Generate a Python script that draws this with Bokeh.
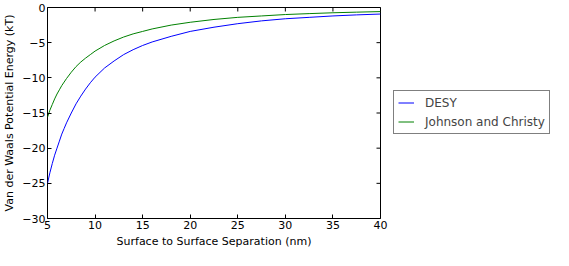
import math
from bokeh.plotting import figure
from bokeh.layouts import row
from bokeh.models import FixedTicker, Legend, LegendItem, Range1d
from bokeh.embed import file_html
from bokeh.resources import INLINE

separation = [5, 5.25, 5.5, 5.75, 6, 6.25, 6.5, 6.75, 7, 7.5, 8, 8.5, 9, 9.5, 10, 11, 12,
              13, 14, 15, 16, 18, 20, 22.5, 25, 27.5, 30, 32.5, 35, 37.5, 40]
desy = [-25.0, -23.5, -22.2, -21.0, -20.0, -19.0, -18.0, -17.2, -16.4, -15.0, -13.7,
        -12.6, -11.6, -10.7, -9.9, -8.6, -7.6, -6.7, -6.0, -5.4, -4.9, -4.1, -3.4,
        -2.8, -2.3, -1.9, -1.6, -1.4, -1.2, -1.05, -0.93]
johnson_christy = [-15.6, -14.6, -13.8, -13.0, -12.3, -11.7, -11.1, -10.6, -10.1,
                   -9.2, -8.4, -7.75, -7.2, -6.7, -6.2, -5.4, -4.75, -4.2, -3.75,
                   -3.4, -3.05, -2.5, -2.1, -1.7, -1.4, -1.2, -1.0, -0.87, -0.75,
                   -0.66, -0.58]
x_ticks = [5, 10, 15, 20, 25, 30, 35, 40]
y_ticks = [0, -5, -10, -15, -20, -25, -30]
series_names = ["DESY", "Johnson and Christy"]
series_colors = ["#0000ff", "#008000"]

FONT = "DejaVu Sans"
x_min, x_max = x_ticks[0], x_ticks[-1]
y_min, y_max = y_ticks[-1], y_ticks[0]

p = figure(width=390, height=250, output_backend="svg", toolbar_location=None,
           x_range=Range1d(x_min, x_max), y_range=Range1d(y_min, y_max),
           min_border_left=10, min_border_right=10, min_border_top=7,
           min_border_bottom=10)
p.background_fill_color = "white"
p.border_fill_color = "white"
p.outline_line_color = "black"
p.outline_line_width = 1
p.grid.visible = False

r1 = p.line(separation, desy, line_color=series_colors[0], line_width=1)
r2 = p.line(separation, johnson_christy, line_color=series_colors[1], line_width=1)

# inward ticks on the top and right edges (matplotlib boxed style)
p.scatter(x=x_ticks, y=[y_max] * len(x_ticks), marker="dash", angle=math.pi / 2,
          size=8, line_color="black", line_width=1)
p.scatter(x=[x_max] * len(y_ticks), y=y_ticks, marker="dash",
          size=8, line_color="black", line_width=1)

for ax, ticks in ((p.xaxis[0], x_ticks), (p.yaxis[0], y_ticks)):
    ax.ticker = FixedTicker(ticks=ticks)
    ax.axis_line_color = None
    ax.major_tick_in = 4
    ax.major_tick_out = 0
    ax.minor_tick_line_color = None
    ax.major_tick_line_color = "black"
    ax.major_label_text_font = FONT
    ax.major_label_text_font_size = "11px"
    ax.major_label_text_color = "black"
    ax.axis_label_text_font = FONT
    ax.axis_label_text_font_size = "11px"
    ax.axis_label_text_font_style = "normal"
    ax.axis_label_text_color = "black"
    ax.major_label_standoff = 2

p.xaxis[0].axis_label = "Surface to Surface Separation (nm)"
p.yaxis[0].axis_label = "Van der Waals Potential Energy (kT)"
p.xaxis[0].axis_label_standoff = 3
p.yaxis[0].axis_label_standoff = 3

# separate panel holding the legend, to the right of the axes
lp = figure(width=163, height=250, output_backend="svg", toolbar_location=None,
            x_range=Range1d(100, 101), y_range=Range1d(100, 101),
            min_border_left=0, min_border_right=0, min_border_top=0,
            min_border_bottom=0)
lp.axis.visible = False
lp.grid.visible = False
lp.outline_line_color = None
lp.background_fill_color = "white"
lp.border_fill_color = "white"
# same series, drawn outside this panel's visible range: only their legend keys show
k1 = lp.line(separation, desy, line_color=series_colors[0], line_width=1)
k2 = lp.line(separation, johnson_christy, line_color=series_colors[1], line_width=1)

legend = Legend(items=[LegendItem(label=series_names[0], renderers=[k1]),
                       LegendItem(label=series_names[1], renderers=[k2])],
                location=(3, 84))
legend.label_text_font = FONT
legend.label_text_font_size = "12px"
legend.border_line_color = "black"
legend.border_line_width = 1
legend.glyph_width = 16
legend.glyph_height = 15
legend.label_height = 15
legend.label_standoff = 11
legend.padding = 4
legend.spacing = 4
legend.margin = 0
legend.background_fill_alpha = 1
lp.add_layout(legend, "center")

open("out.html", "w").write(file_html(row(p, lp), INLINE))
